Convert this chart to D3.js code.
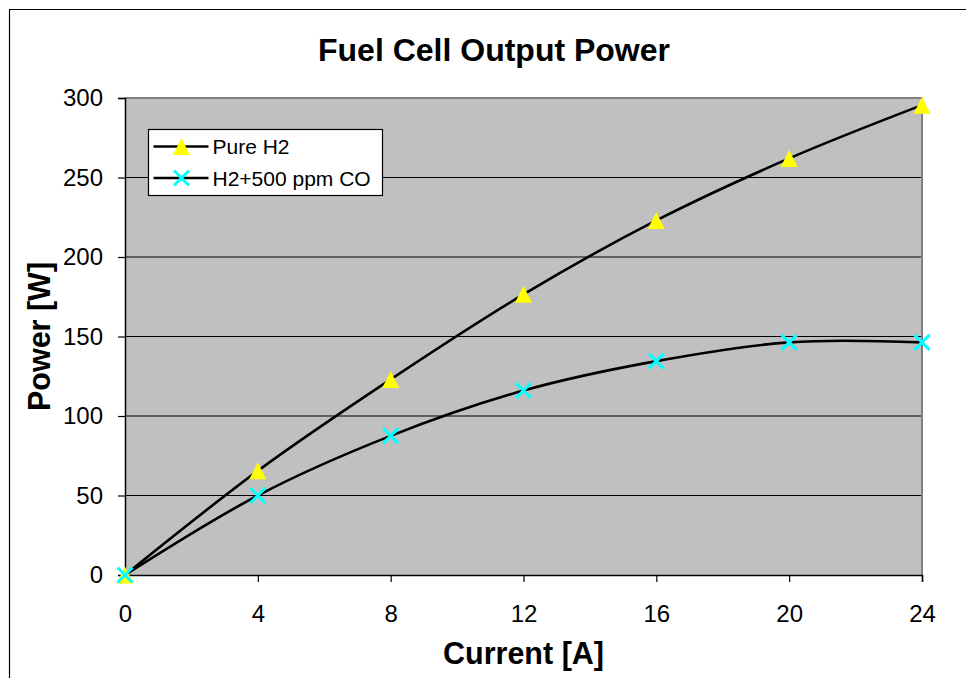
<!DOCTYPE html>
<html>
<head>
<meta charset="utf-8">
<script src="https://cdn.jsdelivr.net/npm/d3@7"></script>
<style>
  body { margin: 0; background: #fff; }
  svg { display: block; font-family: "Liberation Sans", Arial, sans-serif; }
</style>
</head>
<body>
<div id="viz"></div>
<script>
// Data
const currents = [0, 4, 8, 12, 16, 20, 24];
const pureH2 = [0, 65.5, 123, 176.5, 223, 262, 295.5];
const h2co = [0, 50, 87.5, 116, 134.5, 146.3, 146.3];
const xTicks = [0, 4, 8, 12, 16, 20, 24];
const yTicks = [0, 50, 100, 150, 200, 250, 300];
const seriesNames = ["Pure H2", "H2+500 ppm CO"];

const WIDTH = 966, HEIGHT = 678;
const MARGIN = {left: 125, right: 44, top: 98, bottom: 103};

const svg = d3.select("#viz").append("svg")
  .attr("width", WIDTH)
  .attr("height", HEIGHT);

// chart-area frame (only top and left edges are visible in the reference)
svg.append("path")
  .attr("d", `M9.5,${HEIGHT}V9.5H${WIDTH}`)
  .attr("fill", "none")
  .attr("stroke", "#000")
  .attr("stroke-width", 1.2);

const innerWidth = WIDTH - MARGIN.left - MARGIN.right;
const innerHeight = HEIGHT - MARGIN.top - MARGIN.bottom;

const x = d3.scaleLinear().domain([0, 24]).range([0, innerWidth]);
const y = d3.scaleLinear().domain([0, 300]).range([innerHeight, 0]);

const g = svg.append("g")
  .attr("transform", `translate(${MARGIN.left},${MARGIN.top})`);

// plot background
g.append("rect")
  .attr("width", innerWidth)
  .attr("height", innerHeight)
  .attr("fill", "#c0c0c0");

// horizontal gridlines
g.append("g")
  .selectAll("line")
  .data(yTicks.filter(d => d > 0 && d < 300))
  .join("line")
  .attr("x1", 0).attr("x2", innerWidth)
  .attr("y1", d => y(d)).attr("y2", d => y(d))
  .attr("stroke", "#000")
  .attr("stroke-width", 1);

// gray frame on top and right
g.append("path")
  .attr("d", `M0,0H${innerWidth}V${innerHeight}`)
  .attr("fill", "none")
  .attr("stroke", "#808080")
  .attr("stroke-width", 2);

// axes
const yAxis = g.append("g")
  .call(d3.axisLeft(y).tickValues(yTicks).tickSize(7).tickPadding(15));
const xAxis = g.append("g")
  .attr("transform", `translate(0,${innerHeight})`)
  .call(d3.axisBottom(x).tickValues(xTicks).tickSize(7).tickPadding(23));

[yAxis, xAxis].forEach(a => {
  a.select(".domain").attr("stroke", "#000").attr("stroke-width", 1.5);
  a.selectAll(".tick line").attr("stroke", "#000").attr("stroke-width", 1.2);
  a.selectAll("text")
    .attr("fill", "#000")
    .style("font-size", "24px")
    .style("font-family", "'Liberation Sans', Arial, sans-serif");
});
xAxis.selectAll("text").attr("dy", "0.71em");

// curves
const line = d3.line()
  .x((d, i) => x(currents[i]))
  .y(d => y(d))
  .curve(d3.curveCatmullRom.alpha(0));

[pureH2, h2co].forEach(s => {
  g.append("path")
    .datum(s)
    .attr("d", line)
    .attr("fill", "none")
    .attr("stroke", "#000")
    .attr("stroke-width", 2.6);
});

const tri = "M0,-8.5L8.5,8.5L-8.5,8.5Z";
const crossPath = s => `M${-s},${-s}L${s},${s}M${-s},${s}L${s},${-s}`;

g.append("g")
  .selectAll("path")
  .data(pureH2)
  .join("path")
  .attr("transform", (d, i) => `translate(${x(currents[i])},${y(d)})`)
  .attr("d", tri)
  .attr("fill", "#ffff00");

g.append("g")
  .selectAll("path")
  .data(h2co)
  .join("path")
  .attr("transform", (d, i) => `translate(${x(currents[i])},${y(d)})`)
  .attr("d", crossPath(7.5))
  .attr("fill", "none")
  .attr("stroke", "#00ffff")
  .attr("stroke-width", 3);

// legend
const legend = svg.append("g").attr("transform", "translate(148.5,129.5)");
legend.append("rect")
  .attr("width", 234).attr("height", 66)
  .attr("fill", "#fff")
  .attr("stroke", "#000")
  .attr("stroke-width", 1.2);

seriesNames.forEach((name, i) => {
  const ly = 17 + i * 31.5;
  const row = legend.append("g").attr("transform", `translate(0,${ly})`);
  row.append("line")
    .attr("x1", 5).attr("x2", 60)
    .attr("stroke", "#000").attr("stroke-width", 2.6);
  if (i === 0) {
    row.append("path").attr("transform", "translate(33,0)")
      .attr("d", tri).attr("fill", "#ffff00");
  } else {
    row.append("path").attr("transform", "translate(33,0)")
      .attr("d", crossPath(7.5))
      .attr("fill", "none").attr("stroke", "#00ffff").attr("stroke-width", 3);
  }
  row.append("text")
    .attr("x", 64).attr("dy", "0.36em")
    .style("font-size", "21px")
    .text(name);
});

// title and axis titles
svg.append("text")
  .attr("x", 494).attr("y", 61)
  .attr("text-anchor", "middle")
  .style("font-size", "32px").style("font-weight", "bold")
  .text("Fuel Cell Output Power");

svg.append("text")
  .attr("x", MARGIN.left + innerWidth / 2).attr("y", 664)
  .attr("text-anchor", "middle")
  .style("font-size", "30.5px").style("font-weight", "bold")
  .text("Current [A]");

svg.append("text")
  .attr("transform", `translate(50,${MARGIN.top + innerHeight / 2}) rotate(-90)`)
  .attr("text-anchor", "middle")
  .style("font-size", "30.5px").style("font-weight", "bold")
  .text("Power [W]");
</script>
</body>
</html>
